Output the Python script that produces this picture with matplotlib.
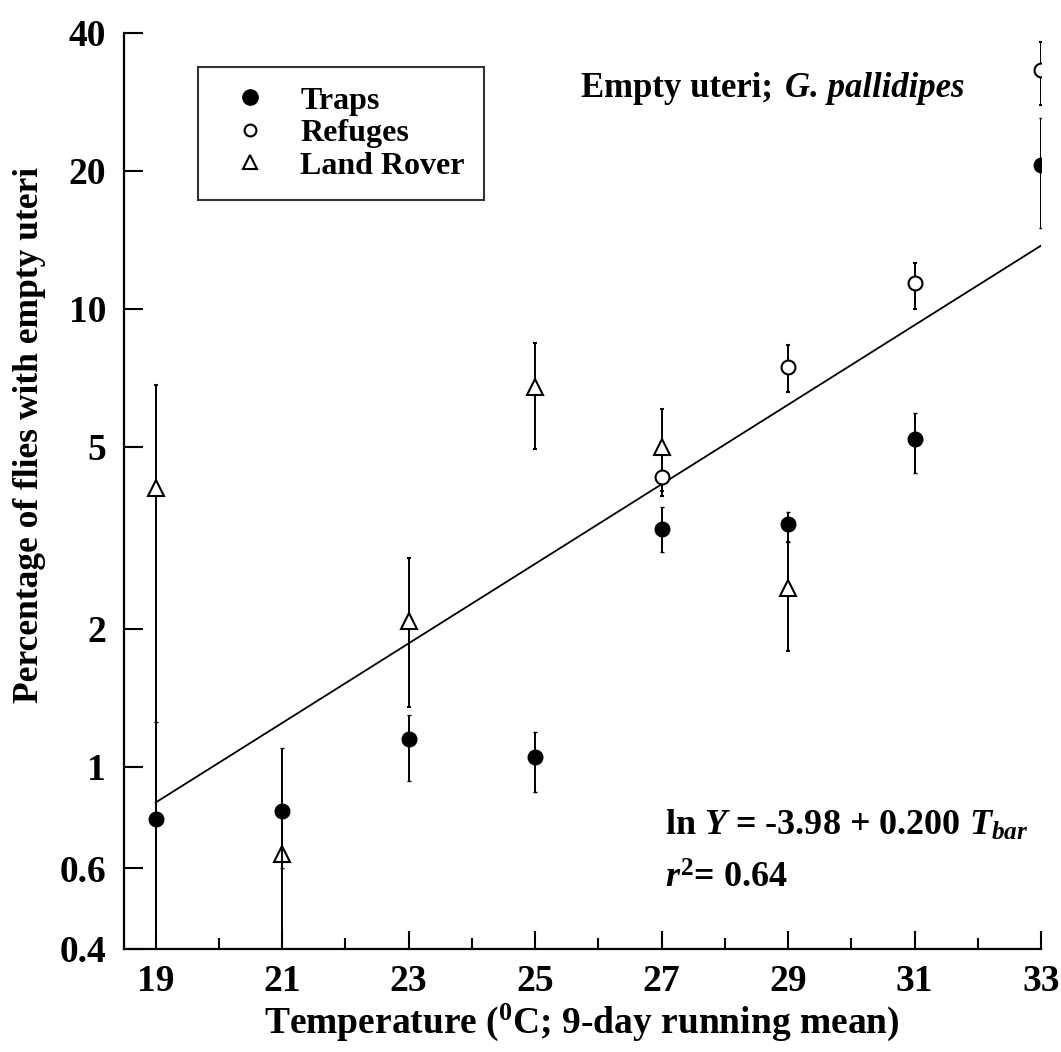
import numpy as np
import matplotlib
matplotlib.use('Agg')
import matplotlib.pyplot as plt
from matplotlib.ticker import FixedLocator, FixedFormatter, NullLocator

plt.rcParams['font.family'] = 'Liberation Serif'
plt.rcParams['font.weight'] = 'bold'
plt.rcParams['mathtext.fontset'] = 'custom'
plt.rcParams['mathtext.rm'] = 'Liberation Serif:bold'
plt.rcParams['mathtext.bf'] = 'Liberation Serif:bold'
plt.rcParams['mathtext.it'] = 'Liberation Serif:bold:italic'

# Traps (filled circles)
trapT = [19, 21, 23, 25, 27, 29, 31, 33]
trapY = [0.77, 0.80, 1.15, 1.05, 3.31, 3.38, 5.2, 20.6]
trapLo = [0.30, 0.60, 0.93, 0.88, 2.95, 3.10, 4.37, 15.0]
trapHi = [1.25, 1.10, 1.30, 1.19, 3.70, 3.60, 5.93, 26.1]

# Refuges (open circles)
refT = [27, 29, 31, 33]
refY = [4.3, 7.47, 11.4, 33.2]
refLo = [3.9, 6.59, 10.0, 27.9]
refHi = [4.8, 8.35, 12.6, 38.2]

# Land Rover (open triangles)
lrT = [19, 21, 23, 25, 27, 29]
lrY = [4.06, 0.645, 2.08, 6.76, 5.0, 2.46]
lrLo = [0.30, 0.30, 1.35, 4.95, 4.0, 1.79]
lrHi = [6.82, 0.80, 2.85, 8.43, 6.05, 3.10]

# fitted line: ln Y = a + b T
fitA = -3.98
fitB = 0.200
fitT = [19, 33]

yticks = [0.4, 0.6, 1, 2, 5, 10, 20, 40]
yticklabels = ['0.4', '0.6', '1', '2', '5', '10', '20', '40']
xticks = [19, 21, 23, 25, 27, 29, 31, 33]

W, H = 1061, 1052
fig = plt.figure(figsize=(W / 100, H / 100), dpi=100)
ax = fig.add_axes([124 / W, 1 - 949 / H, (1041 - 124) / W, (949 - 33) / H])

ax.set_yscale('log')
ax.set_xlim(18.5, 33)
ax.set_ylim(0.4, 40)

def errs(y, lo, hi):
    y = np.array(y)
    return [y - np.array(lo), np.array(hi) - y]

eb = dict(ecolor='black', elinewidth=1.4, capsize=1.2, capthick=1.0, linestyle='none', clip_on=True)

ax.errorbar(lrT, lrY, yerr=errs(lrY, lrLo, lrHi), fmt='^', ms=12, mfc='white', mec='black', mew=1.5, zorder=3, **eb)
ax.errorbar(refT, refY, yerr=errs(refY, refLo, refHi), fmt='o', ms=10, mfc='white', mec='black', mew=1.5, zorder=3, **eb)
ax.errorbar(trapT, trapY, yerr=errs(trapY, trapLo, trapHi), fmt='o', ms=10.5, mfc='black', mec='black', zorder=4, **eb)

fitT = np.array(fitT)
ax.plot(fitT, np.exp(fitA + fitB * fitT), color='black', lw=1.3, zorder=2)

# legend handles
h1, = ax.plot([], [], 'o', ms=11, mfc='black', mec='black')
h2, = ax.plot([], [], 'o', ms=8.5, mfc='white', mec='black', mew=1.5)
h3, = ax.plot([], [], '^', ms=9.5, mfc='white', mec='black', mew=1.5)
leg = ax.legend([h1, h2, h3], ['Traps', 'Refuges', 'Land Rover'],
                loc='upper left', bbox_to_anchor=(198 / W, 1 - 67 / H),
                bbox_transform=fig.transFigure, fancybox=False, frameon=True,
                edgecolor='black', labelspacing=0.1,
                handlelength=2.05, handletextpad=0.55, borderpad=0.6, borderaxespad=0,
                prop={'weight': 'bold', 'size': 23})
leg.get_frame().set_linewidth(1.5)
leg.get_frame().set_boxstyle('square', pad=0)

for s in ['top', 'right']:
    ax.spines[s].set_visible(False)
for s in ['left', 'bottom']:
    ax.spines[s].set_linewidth(1.6)

ax.yaxis.set_major_locator(FixedLocator(yticks))
ax.yaxis.set_major_formatter(FixedFormatter(yticklabels))
ax.yaxis.set_minor_locator(NullLocator())
ax.set_xticks(xticks)
ax.set_xticks([20, 22, 24, 26, 28, 30, 32], minor=True)
ax.tick_params(axis='y', which='major', direction='in', length=14, width=1.5, labelsize=27, pad=13)
ax.tick_params(axis='x', which='major', direction='in', length=13, width=1.5, labelsize=27, pad=11)
ax.tick_params(axis='x', which='minor', direction='in', length=8, width=1.5)
for lab in ax.get_xticklabels() + ax.get_yticklabels():
    lab.set_fontweight('bold')

fig.text(30 / W, 1 - 435 / H, 'Percentage of flies with empty uteri', rotation=90,
         ha='center', va='center', fontsize=25.5, fontweight='bold')
fig.text(582 / W, 1 - 1022 / H, r'Temperature ($^{0}$C; 9-day running mean)',
         ha='center', va='center', fontsize=27, fontweight='bold')

# title in two parts: upright then italic species name
t1 = fig.text(581 / W, 1 - 97 / H, 'Empty uteri; ',
              ha='left', va='baseline', fontsize=25, fontweight='bold')
renderer = fig.canvas.get_renderer()
bb = t1.get_window_extent(renderer)
fig.text(bb.x1 / W + 3 / W, 1 - 97 / H, 'G. pallidipes', ha='left', va='baseline',
         fontsize=25, fontweight='bold', fontstyle='italic')

fig.text(665 / W, 1 - 835 / H, r'ln $Y$ = -3.98 + 0.200 $T_{bar}$',
         ha='left', va='baseline', fontsize=26, fontweight='bold')
fig.text(665 / W, 1 - 888 / H, r'$r^{2}$= 0.64',
         ha='left', va='baseline', fontsize=26, fontweight='bold')

fig.savefig('out.png', dpi=100)
